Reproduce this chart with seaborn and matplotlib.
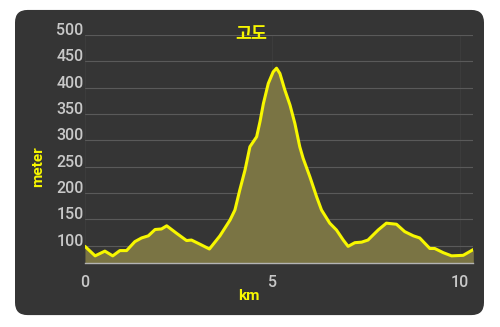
import matplotlib
matplotlib.use("Agg")
import matplotlib.pyplot as plt
from matplotlib.patches import FancyBboxPatch
import seaborn as sns
import pandas as pd

# Elevation profile along the route
distance_km = [0, 0.27, 0.53, 0.74, 0.93, 1.11, 1.33, 1.51, 1.69, 1.87, 2.04, 2.18,
               2.44, 2.71, 2.84, 3.07, 3.32, 3.6, 3.87, 4.0, 4.13, 4.27, 4.4, 4.58,
               4.67, 4.76, 4.89, 5.02, 5.11, 5.2, 5.33, 5.47, 5.6, 5.73, 5.82, 6.0,
               6.18, 6.31, 6.53, 6.71, 6.89, 7.02, 7.2, 7.38, 7.55, 7.82, 8.04, 8.31,
               8.53, 8.76, 8.93, 9.2, 9.33, 9.56, 9.78, 10.09, 10.36]
elevation_m = [99, 81, 90, 81, 91, 91, 108, 115, 119, 131, 132, 138,
               124, 110, 111, 103, 94, 119, 149, 168, 206, 244, 288, 307,
               336, 370, 408, 430, 437, 427, 396, 367, 332, 288, 266, 231,
               193, 168, 143, 130, 111, 99, 106, 107, 111, 130, 143, 141,
               127, 119, 115, 95, 95, 87, 81, 82, 93]
y_ticks = [100, 150, 200, 250, 300, 350, 400, 450, 500]
x_ticks = [0, 5, 10]
title_text = "고도"
x_label = "km"
y_label = "meter"

df = pd.DataFrame({"km": distance_km, "elev": elevation_m})

sns.set_theme(style="dark")
plt.rcParams["font.family"] = ["Roboto", "Noto Sans CJK KR", "DejaVu Sans"]

PANEL = "#353535"
YELLOW = "#f7f700"
TICK = "#c8c8c8"

fig = plt.figure(figsize=(5.0, 3.27), dpi=100)
fig.patch.set_facecolor("white")

# rounded dark card behind the chart
card = FancyBboxPatch((0.03 + 0.02, 0.037 + 0.03), 0.938 - 0.04, 0.932 - 0.06,
                      boxstyle="round,pad=0.02,rounding_size=0.025",
                      transform=fig.transFigure, facecolor=PANEL,
                      edgecolor="none", zorder=-10, mutation_aspect=500 / 327)
fig.patches.append(card)

ax = fig.add_axes([0.17, 0.1966, 0.9466 - 0.17, 0.893 - 0.1966])
ax.set_zorder(5)
ax.set_facecolor(PANEL)

ax.fill_between(df["km"], df["elev"], 68, color="#7a7444", linewidth=0, zorder=2)
sns.lineplot(data=df, x="km", y="elev", ax=ax, color=YELLOW, linewidth=2.2,
             zorder=3)

ax.set_xlim(0, 10.36)
ax.set_ylim(68, 500)
ax.set_xticks(x_ticks)
ax.set_yticks(y_ticks)
ax.set_xticklabels([str(t) for t in x_ticks])
ax.set_yticklabels([str(t) for t in y_ticks])
ax.set_xlabel("")
ax.set_ylabel("")

ax.grid(True, axis="y", color="#5a5a5a", linewidth=0.8)
ax.grid(True, axis="x", color="#3e3e3e", linewidth=0.6)
ax.set_axisbelow(True)

for side in ["top", "right", "left"]:
    ax.spines[side].set_visible(False)
ax.spines["bottom"].set_visible(True)
ax.spines["bottom"].set_color("#b4b4b4")
ax.spines["bottom"].set_linewidth(1.0)
ax.spines["bottom"].set_zorder(4)

ax.tick_params(axis="both", length=0, colors=TICK, labelsize=11.5)
ax.tick_params(axis="y", pad=1)
ax.tick_params(axis="x", pad=9)
for lbl in ax.get_yticklabels():
    lbl.set_verticalalignment("baseline")
    lbl.set_fontweight("medium")
for lbl in ax.get_xticklabels():
    lbl.set_fontweight("medium")

fig.text(0.502, 1 - 34 / 327, title_text, color=YELLOW, fontsize=12.5,
         fontweight="bold", ha="center", va="center", zorder=10,
         family=["Noto Sans CJK KR", "DejaVu Sans"])
fig.text(0.498, 1 - 296 / 327, x_label, color=YELLOW, fontsize=11,
         fontweight="bold", ha="center", va="center")
fig.text(38 / 500, 1 - 167 / 327, y_label, color=YELLOW, fontsize=11,
         fontweight="bold", ha="center", va="center", rotation=90)

fig.savefig("out.png", dpi=100, facecolor="white")
